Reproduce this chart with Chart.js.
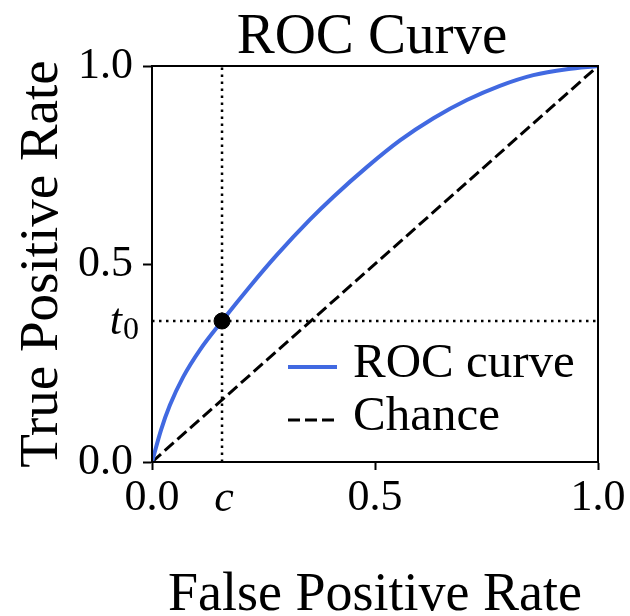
<!DOCTYPE html>
<html>
<head>
<meta charset="utf-8">
<script src="https://cdn.jsdelivr.net/npm/chart.js@4.4.1/dist/chart.umd.min.js"></script>
<style>
  html, body { margin: 0; padding: 0; background: #fff; }
  #wrap { position: relative; width: 630px; height: 616px; }
</style>
</head>
<body>
<div id="wrap"><canvas id="roc"></canvas></div>
<script>
// values
var rocFpr = [0, 0.02, 0.04, 0.07, 0.108, 0.157, 0.22, 0.28, 0.354, 0.407, 0.481, 0.556, 0.631, 0.706, 0.78, 0.855, 0.93, 1.0];
var rocTpr = [0, 0.08, 0.143, 0.215, 0.284, 0.356, 0.444, 0.523, 0.612, 0.67, 0.744, 0.812, 0.868, 0.914, 0.95, 0.977, 0.992, 1.0];
var chanceFpr = [0, 1];
var chanceTpr = [0, 1];
var cutFpr = 0.157;   // c
var cutTpr = 0.356;   // t0
var tickValues = [0, 0.5, 1.0];

var SERIF = '"Liberation Serif", "DejaVu Serif", serif';

function pts(xs, ys) {
  return xs.map(function(x, i) { return { x: x, y: ys[i] }; });
}

// title over the axes, box round them, c / t0 labels, legend inside
var extras = {
  id: 'extras',
  afterDatasetsDraw: function(chart) {
    var ctx = chart.ctx, a = chart.chartArea;
    var xs = chart.scales.x, ys = chart.scales.y;
    ctx.save();
    ctx.strokeStyle = '#000';
    ctx.lineWidth = 2;
    ctx.strokeRect(a.left, a.top, a.right - a.left, a.bottom - a.top);

    ctx.fillStyle = '#000';
    ctx.textBaseline = 'alphabetic';
    ctx.textAlign = 'center';
    ctx.font = '57px ' + SERIF;
    ctx.fillText('ROC Curve', (a.left + a.right) / 2 - 3, 53);

    // t0 on the y axis
    var ty = ys.getPixelForValue(cutTpr);
    ctx.textAlign = 'right';
    ctx.font = '32px ' + SERIF;
    ctx.fillText('0', 139, ty + 18);
    ctx.font = 'italic 44px ' + SERIF;
    ctx.fillText('t', 122, ty + 13);
    // c on the x axis
    ctx.textAlign = 'center';
    ctx.fillText('c', xs.getPixelForValue(cutFpr) + 2, 511);

    // legend
    var items = [
      { label: 'ROC curve', color: '#4169E1', width: 4, dash: [] },
      { label: 'Chance', color: '#000', width: 3, dash: [12, 5] }
    ];
    items.forEach(function(it, i) {
      var y = 367 + i * 53;
      ctx.beginPath();
      ctx.strokeStyle = it.color;
      ctx.lineWidth = it.width;
      ctx.setLineDash(it.dash);
      ctx.moveTo(288, y);
      ctx.lineTo(337, y);
      ctx.stroke();
      ctx.setLineDash([]);
      ctx.textAlign = 'left';
      ctx.font = '49px ' + SERIF;
      ctx.fillText(it.label, 353, y + 10);
    });
    ctx.restore();
  }
};

Chart.defaults.color = '#000';
Chart.defaults.font.family = SERIF;

new Chart(document.getElementById('roc'), {
  type: 'scatter',
  data: {
    datasets: [
      {
        label: 'cut',
        data: [{ x: cutFpr, y: cutTpr }],
        backgroundColor: '#000',
        borderColor: '#000',
        pointRadius: 8,
        order: 0
      },
      {
        label: 'ROC curve',
        data: pts(rocFpr, rocTpr),
        showLine: true,
        borderColor: '#4169E1',
        borderWidth: 4,
        pointRadius: 0,
        cubicInterpolationMode: 'monotone',
        order: 1
      },
      {
        label: 'Chance',
        data: pts(chanceFpr, chanceTpr),
        showLine: true,
        borderColor: '#000',
        borderWidth: 3,
        borderDash: [12, 5],
        pointRadius: 0,
        order: 2
      },
      {
        label: 'c',
        data: [{ x: cutFpr, y: 0 }, { x: cutFpr, y: 1 }],
        showLine: true,
        borderColor: '#000',
        borderWidth: 2.5,
        borderDash: [2.5, 4.5],
        pointRadius: 0,
        order: 3
      },
      {
        label: 't0',
        data: [{ x: 0, y: cutTpr }, { x: 1, y: cutTpr }],
        showLine: true,
        borderColor: '#000',
        borderWidth: 2.5,
        borderDash: [2.5, 4.5],
        pointRadius: 0,
        order: 3
      }
    ]
  },
  options: {
    responsive: true,
    maintainAspectRatio: false,
    animation: false,
    layout: { padding: { left: 0, right: 32, top: 66, bottom: 0 } },
    plugins: {
      legend: { display: false },
      tooltip: { enabled: false },
      title: { display: false }
    },
    scales: {
      x: {
        type: 'linear',
        min: 0, max: 1,
        afterBuildTicks: function(s) { s.ticks = tickValues.map(function(v) { return { value: v }; }); },
        afterFit: function(s) { s.height = 154; },
        ticks: {
          padding: 2,
          maxRotation: 0,
          font: { family: SERIF, size: 44 },
          callback: function(v) { return Number(v).toFixed(1); }
        },
        grid: { drawOnChartArea: false, tickLength: 8, tickColor: '#000', tickWidth: 2 },
        border: { display: true, color: '#000', width: 2 },
        title: {
          display: true,
          text: 'False Positive Rate',
          font: { family: SERIF, size: 54, lineHeight: 0.74 },
          padding: { top: 0, bottom: 0 }
        }
      },
      y: {
        type: 'linear',
        min: 0, max: 1,
        afterBuildTicks: function(s) { s.ticks = tickValues.map(function(v) { return { value: v }; }); },
        afterFit: function(s) { s.width = 152; },
        ticks: {
          padding: 10,
          font: { family: SERIF, size: 44 },
          callback: function(v) { return Number(v).toFixed(1); }
        },
        grid: { drawOnChartArea: false, tickLength: 9, tickColor: '#000', tickWidth: 2 },
        border: { display: true, color: '#000', width: 2 },
        title: {
          display: true,
          text: 'True Positive Rate',
          font: { family: SERIF, size: 55, lineHeight: 1 },
          padding: { top: 15, bottom: 0 }
        }
      }
    }
  },
  plugins: [extras]
});
</script>
</body>
</html>
